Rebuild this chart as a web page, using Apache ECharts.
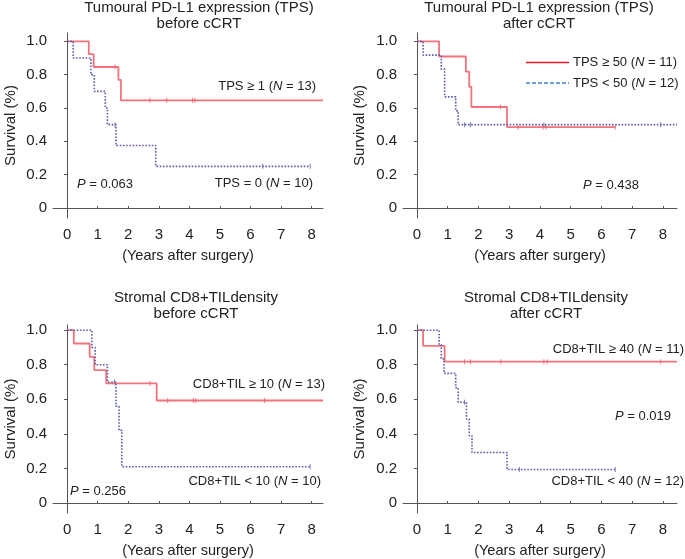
<!DOCTYPE html>
<html lang="en">
<head>
    <meta charset="UTF-8">
    <title>Survival curves</title>
    <style>
        html, body { margin: 0; padding: 0; background: #fff; }
    </style>
</head>
<body>
    <div id="main" style="width: 685px;height:559px;"></div>
</body>
<script src="https://cdn.jsdelivr.net/npm/echarts@6/dist/echarts.min.js"></script>
<script>
    // tick labels
    var xTicks = [0, 1, 2, 3, 4, 5, 6, 7, 8];
    var yTicks = [0, 0.2, 0.4, 0.6, 0.8, 1.0];

    // panel 1: TPS before cCRT
    var tps1HiTimes = [0, 0.71, 0.87, 1.68, 1.76];
    var tps1HiSurv = [1, 0.923, 0.846, 0.769, 0.646];
    var tps1HiEnd = 8.37;
    var tps1HiCens = [1.57, 2.71, 3.26, 4.1, 4.18];
    var tps1LoTimes = [0, 0.2, 0.78, 0.89, 1.25, 1.32, 1.6, 2.9];
    var tps1LoSurv = [1, 0.9, 0.8, 0.7, 0.6, 0.5, 0.375, 0.25];
    var tps1LoEnd = 7.95;
    var tps1LoCens = [1.57, 6.4, 7.95];

    // panel 2: TPS after cCRT
    var tps2HiTimes = [0, 0.72, 1.59, 1.7, 1.77, 2.93];
    var tps2HiSurv = [1, 0.909, 0.818, 0.727, 0.606, 0.485];
    var tps2HiEnd = 6.45;
    var tps2HiCens = [2.72, 3.29, 4.1, 4.2, 6.45];
    var tps2LoTimes = [0, 0.2, 0.79, 0.9, 1.26, 1.34];
    var tps2LoSurv = [1, 0.917, 0.833, 0.667, 0.583, 0.5];
    var tps2LoEnd = 8.46;
    var tps2LoCens = [1.55, 1.74, 4.13, 7.93];

    // panel 3: CD8+TIL before cCRT
    var cd81HiTimes = [0, 0.22, 0.74, 0.89, 1.28, 2.93];
    var cd81HiSurv = [1, 0.923, 0.846, 0.769, 0.692, 0.593];
    var cd81HiEnd = 8.37;
    var cd81HiCens = [2.71, 3.29, 4.13, 4.21, 6.46];
    var cd81LoTimes = [0, 0.81, 0.92, 1.32, 1.6, 1.7, 1.79];
    var cd81LoSurv = [1, 0.9, 0.8, 0.7, 0.56, 0.42, 0.21];
    var cd81LoEnd = 7.95;
    var cd81LoCens = [1.55, 7.95];

    // panel 4: CD8+TIL after cCRT
    var cd82HiTimes = [0, 0.2, 0.9];
    var cd82HiSurv = [1, 0.909, 0.818];
    var cd82HiEnd = 8.46;
    var cd82HiCens = [1.55, 1.74, 2.73, 4.13, 4.24, 7.93];
    var cd82LoTimes = [0, 0.72, 0.79, 0.88, 1.26, 1.34, 1.61, 1.7, 1.79, 2.93];
    var cd82LoSurv = [1, 0.917, 0.833, 0.75, 0.667, 0.583, 0.486, 0.389, 0.292, 0.194];
    var cd82LoEnd = 6.45;
    var cd82LoCens = [1.55, 3.33, 6.45];

    var RED = '#f05a64';
    var BLUE = '#5d5dab';
    var FONT = '"Liberation Sans", Arial, sans-serif';

    function stepData(times, surv, end) {
        var out = [];
        for (var i = 0; i < times.length; i++) {
            out.push([times[i], surv[i]]);
        }
        out.push([end, surv[surv.length - 1]]);
        return out;
    }

    // censor ticks sit on the curve at the level in force at that time
    function censData(times, surv, cens) {
        return cens.map(function (c) {
            var s = surv[0];
            for (var i = 0; i < times.length; i++) {
                if (times[i] <= c) s = surv[i];
            }
            return [c, s];
        });
    }

    var grids = [
        { left: 53, top: 33, width: 270, height: 185 },
        { left: 403, top: 33, width: 274, height: 185 },
        { left: 53, top: 325, width: 270, height: 188 },
        { left: 403, top: 325, width: 274, height: 188 }
    ];
    var xRange = [[-0.46, 8.37], [-0.455, 8.46], [-0.46, 8.37], [-0.455, 8.46]];
    var yRange = [[-0.06, 1.05], [-0.06, 1.05], [-0.058, 1.03], [-0.058, 1.03]];
    var yNameGap = [35, 36, 35, 36];

    var xAxes = [], yAxes = [];
    for (var g = 0; g < 4; g++) {
        xAxes.push({
            type: 'value', gridIndex: g, min: xRange[g][0], max: xRange[g][1],
            name: '(Years after surgery)', nameLocation: 'middle', nameGap: 30,
            nameTextStyle: { fontSize: 14.5, color: '#222', fontFamily: FONT },
            axisLine: { lineStyle: { color: '#555', width: 1 } },
            axisTick: { show: true, inside: true, length: 2, customValues: xTicks, lineStyle: { color: '#555' } },
            axisLabel: { customValues: xTicks, margin: 9, fontSize: 15, color: '#222', fontFamily: FONT },
            splitLine: { show: false }
        });
        yAxes.push({
            type: 'value', gridIndex: g, min: yRange[g][0], max: yRange[g][1],
            name: 'Survival (%)', nameLocation: 'middle', nameGap: yNameGap[g],
            nameTextStyle: { fontSize: 15, color: '#222', fontFamily: FONT },
            axisLine: { show: true, lineStyle: { color: '#555', width: 1 } },
            axisTick: { show: true, length: 3, customValues: yTicks, lineStyle: { color: '#555' } },
            axisLabel: {
                customValues: yTicks, margin: 6, fontSize: 15, color: '#222', fontFamily: FONT,
                formatter: function (v) { return Math.abs(v) < 1e-9 ? '0' : v.toFixed(1); }
            },
            splitLine: { show: false }
        });
    }

    function curve(g, times, surv, end, color, dotted) {
        return {
            type: 'line', xAxisIndex: g, yAxisIndex: g, step: 'end',
            showSymbol: false, silent: true,
            lineStyle: { color: color, width: dotted ? 1.6 : 1.8, type: dotted ? 'dotted' : 'solid', opacity: dotted ? 1 : 0.85 },
            data: stepData(times, surv, end)
        };
    }

    function ticks(g, times, surv, cens, color) {
        return {
            type: 'scatter', xAxisIndex: g, yAxisIndex: g, silent: true,
            symbol: 'rect', symbolSize: [1, 5],
            itemStyle: { color: color, opacity: 0.8 },
            data: censData(times, surv, cens)
        };
    }

    var series = [
        curve(0, tps1HiTimes, tps1HiSurv, tps1HiEnd, RED, false),
        ticks(0, tps1HiTimes, tps1HiSurv, tps1HiCens, RED),
        curve(0, tps1LoTimes, tps1LoSurv, tps1LoEnd, BLUE, true),
        ticks(0, tps1LoTimes, tps1LoSurv, tps1LoCens, BLUE),
        curve(1, tps2HiTimes, tps2HiSurv, tps2HiEnd, RED, false),
        ticks(1, tps2HiTimes, tps2HiSurv, tps2HiCens, RED),
        curve(1, tps2LoTimes, tps2LoSurv, tps2LoEnd, BLUE, true),
        ticks(1, tps2LoTimes, tps2LoSurv, tps2LoCens, BLUE),
        curve(2, cd81HiTimes, cd81HiSurv, cd81HiEnd, RED, false),
        ticks(2, cd81HiTimes, cd81HiSurv, cd81HiCens, RED),
        curve(2, cd81LoTimes, cd81LoSurv, cd81LoEnd, BLUE, true),
        ticks(2, cd81LoTimes, cd81LoSurv, cd81LoCens, BLUE),
        curve(3, cd82HiTimes, cd82HiSurv, cd82HiEnd, RED, false),
        ticks(3, cd82HiTimes, cd82HiSurv, cd82HiCens, RED),
        curve(3, cd82LoTimes, cd82LoSurv, cd82LoEnd, BLUE, true),
        ticks(3, cd82LoTimes, cd82LoSurv, cd82LoCens, BLUE)
    ];

    function title(text, x, y) {
        return {
            text: text, left: x, top: y, textAlign: 'center', padding: 0,
            textStyle: { fontSize: 15, fontWeight: 'normal', color: '#222', fontFamily: FONT, lineHeight: 16 }
        };
    }

    var richIt = {
        i: { fontStyle: 'italic', fontSize: 13, fontFamily: FONT, fill: '#222' }
    };

    function label(text, x, y, align) {
        return {
            type: 'text', x: x, y: y, silent: true,
            style: {
                text: text, rich: richIt, fill: '#222', fontSize: 13, fontFamily: FONT,
                align: align, verticalAlign: 'middle'
            }
        };
    }

    var graphic = [
        label('TPS ≥ 1 ({i|N} = 13)', 316, 86, 'right'),
        label('TPS = 0 ({i|N} = 10)', 313, 183, 'right'),
        label('{i|P} = 0.063', 77, 184, 'left'),
        label('{i|P} = 0.438', 583, 185, 'left'),
        // legend, panel 2
        { type: 'line', silent: true, shape: { x1: 526, y1: 62.5, x2: 569, y2: 62.5 }, style: { stroke: '#f0141e', lineWidth: 1.5 } },
        { type: 'line', silent: true, shape: { x1: 526, y1: 83, x2: 569, y2: 83 }, style: { stroke: '#3c82d2', lineWidth: 1.5, lineDash: [4, 2] } },
        label('TPS ≥ 50 ({i|N} = 11)', 573, 62, 'left'),
        label('TPS < 50 ({i|N} = 12)', 573, 83, 'left'),
        label('CD8+TIL ≥ 10 ({i|N} = 13)', 325, 384, 'right'),
        label('CD8+TIL < 10 ({i|N} = 10)', 321, 481, 'right'),
        label('{i|P} = 0.256', 70, 491, 'left'),
        label('CD8+TIL ≥ 40 ({i|N} = 11)', 684, 349, 'right'),
        label('CD8+TIL < 40 ({i|N} = 12)', 684, 481, 'right'),
        label('{i|P} = 0.019', 615, 416, 'left')
    ];

    var myChart = echarts.init(document.getElementById('main'));
    myChart.setOption({
        animation: false,
        title: [
            title('Tumoural PD-L1 expression (TPS)\nbefore cCRT', 199, 0),
            title('Tumoural PD-L1 expression (TPS)\nafter cCRT', 539, 0),
            title('Stromal CD8+TILdensity\nbefore cCRT', 196, 290),
            title('Stromal CD8+TILdensity\nafter cCRT', 546, 290)
        ],
        grid: grids,
        xAxis: xAxes,
        yAxis: yAxes,
        series: series,
        graphic: graphic
    });
</script>
</html>
